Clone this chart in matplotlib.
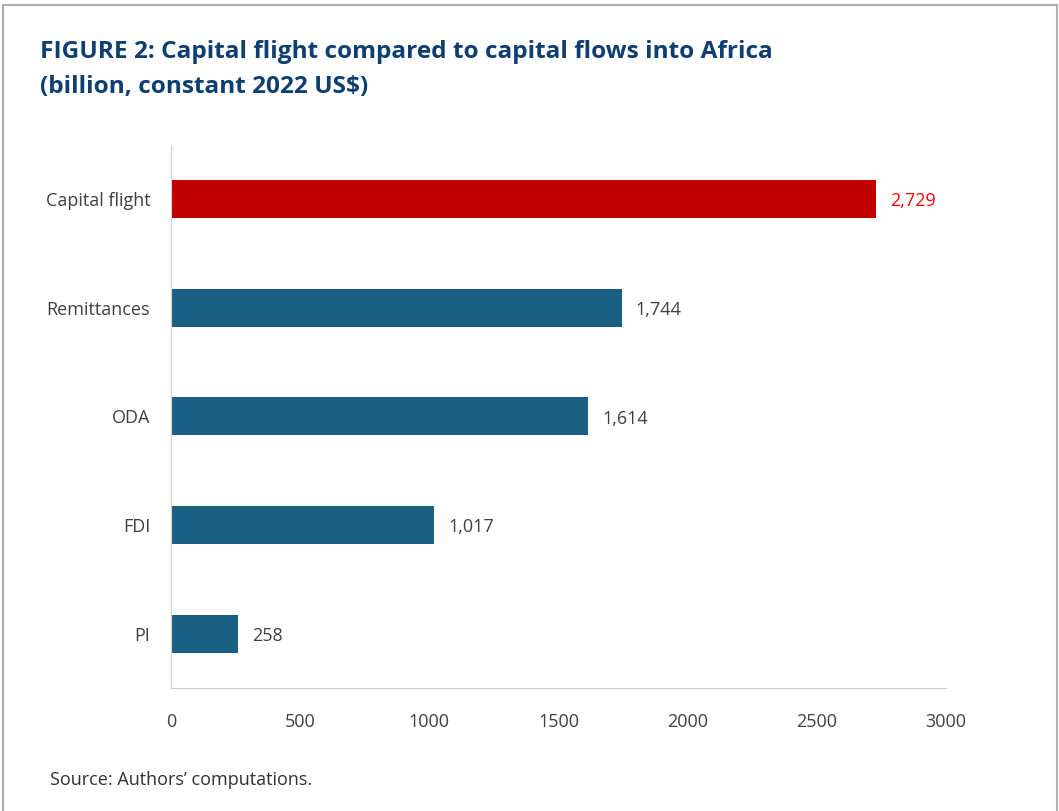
import matplotlib.pyplot as plt
from matplotlib.patches import Rectangle

categories = ["Capital flight", "Remittances", "ODA", "FDI", "PI"]
values = [2729, 1744, 1614, 1017, 258]
bar_colors = ["#c00000", "#1a6083", "#1a6083", "#1a6083", "#1a6083"]
label_colors = ["#ff0000", "#404040", "#404040", "#404040", "#404040"]
xticks = [0, 500, 1000, 1500, 2000, 2500, 3000]

plt.rcParams['font.family'] = ['Open Sans', 'DejaVu Sans']

fig = plt.figure(figsize=(10.59, 8.11), dpi=100)
ax = fig.add_axes([0.1615, 0.1517, 0.7318, 0.6695])

ypos = list(range(len(categories)))
ax.barh(ypos, values, height=0.35, color=bar_colors)
for y, v, c in zip(ypos, values, label_colors):
    ax.text(v + 55, y + 0.02, f"{v:,}", va="center", ha="left", fontsize=13, color=c)

ax.set_yticks(ypos)
ax.set_yticklabels(categories, fontsize=13, color="#404040")
ax.set_xticks(xticks)
ax.set_xticklabels([str(t) for t in xticks], fontsize=13, color="#404040")
ax.set_xlim(0, 3000)
ax.set_ylim(4.5, -0.5)
ax.tick_params(length=0, pad=15, axis="y")
ax.tick_params(length=0, pad=18, axis="x")
for s in ["top", "right"]:
    ax.spines[s].set_visible(False)
for s in ["left", "bottom"]:
    ax.spines[s].set_color("#d0d0d0")

fig.text(0.038, 0.951, "FIGURE 2: Capital flight compared to capital flows into Africa\n(billion, constant 2022 US$)",
         fontsize=17.6, fontweight="bold", color="#0d3f73", va="top", ha="left", linespacing=1.6)
fig.text(0.047, 0.032, "Source: Authors\u2019 computations.", fontsize=13, color="#303030")

fig.add_artist(Rectangle((0.003, -0.01), 0.995, 1.004, transform=fig.transFigure,
                         fill=False, edgecolor="#b0b0b0", linewidth=1.5))

fig.savefig("out.png", dpi=100)
